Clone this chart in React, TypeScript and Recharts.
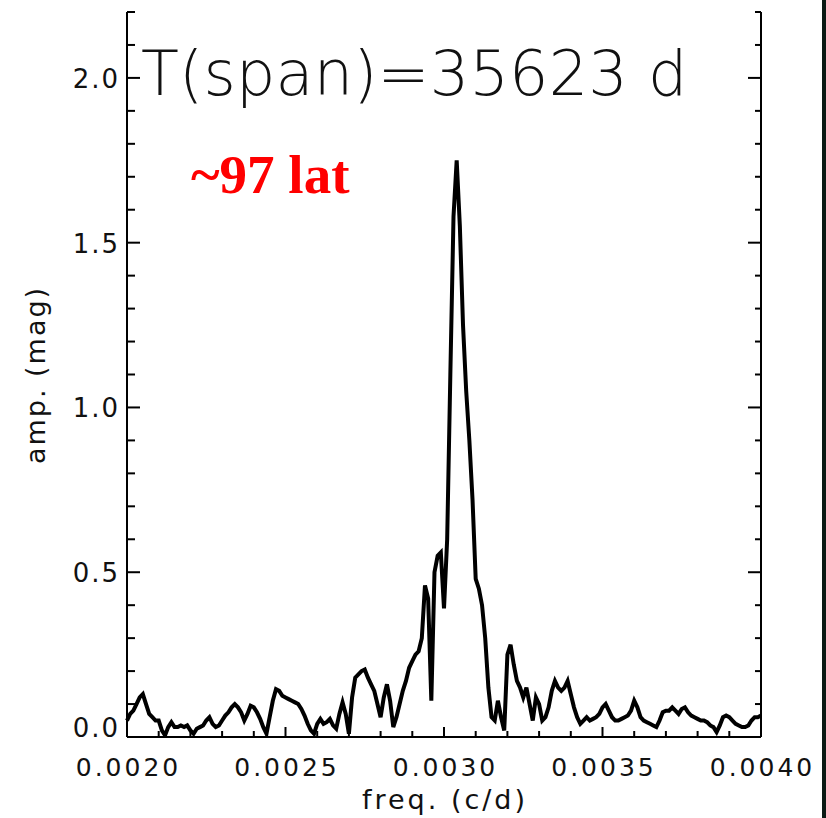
import { LineChart, Line, XAxis, YAxis } from 'recharts';

// periodogram sampled every 0.00001 c/d starting at 0.0020
const FREQ_START = 0.002;
const FREQ_STEP = 0.00001;

const amplitude = [
  0.05, 0.07, 0.08, 0.1, 0.12, 0.13, 0.1, 0.07, 0.06, 0.05,
  0.05, 0.02, 0.005, 0.03, 0.045, 0.03, 0.03, 0.035, 0.03, 0.035,
  0.02, 0.01, 0.025, 0.03, 0.035, 0.05, 0.06, 0.04, 0.03, 0.035,
  0.05, 0.065, 0.075, 0.09, 0.1, 0.09, 0.075, 0.05, 0.07, 0.095,
  0.09, 0.075, 0.055, 0.03, 0.01, 0.06, 0.11, 0.145, 0.14, 0.125,
  0.12, 0.115, 0.11, 0.105, 0.1, 0.085, 0.065, 0.04, 0.02, 0.01,
  0.04, 0.055, 0.04, 0.045, 0.055, 0.035, 0.025, 0.07, 0.105, 0.07,
  0.01, 0.12, 0.18, 0.19, 0.2, 0.205, 0.18, 0.16, 0.14, 0.1,
  0.06, 0.12, 0.16, 0.11, 0.03, 0.06, 0.1, 0.14, 0.17, 0.21,
  0.23, 0.25, 0.26, 0.3, 0.46, 0.42, 0.11, 0.5, 0.55, 0.56,
  0.39, 0.6, 1.1, 1.58, 1.75, 1.55, 1.25, 1.05, 0.9, 0.72,
  0.48, 0.45, 0.4, 0.3, 0.15, 0.06, 0.05, 0.11, 0.06, 0.02,
  0.25, 0.28, 0.22, 0.17, 0.15, 0.12, 0.15, 0.1, 0.05, 0.12,
  0.1, 0.05, 0.06, 0.09, 0.14, 0.17, 0.15, 0.14, 0.15, 0.17,
  0.13, 0.09, 0.06, 0.04, 0.05, 0.06, 0.05, 0.055, 0.06, 0.07,
  0.09, 0.1, 0.08, 0.06, 0.05, 0.05, 0.055, 0.06, 0.065, 0.08,
  0.11, 0.09, 0.06, 0.05, 0.045, 0.04, 0.035, 0.03, 0.05, 0.075,
  0.08, 0.08, 0.09, 0.08, 0.07, 0.085, 0.09, 0.075, 0.065, 0.06,
  0.055, 0.05, 0.05, 0.045, 0.035, 0.03, 0.015, 0.035, 0.06, 0.065,
  0.06, 0.05, 0.04, 0.035, 0.03, 0.03, 0.035, 0.05, 0.06, 0.06,
  0.065,
];

const freqTicks = [
  0.002, 0.0021, 0.0022, 0.0023, 0.0024, 0.0025, 0.0026, 0.0027, 0.0028, 0.0029,
  0.003, 0.0031, 0.0032, 0.0033, 0.0034, 0.0035, 0.0036, 0.0037, 0.0038, 0.0039, 0.004,
];
const ampTicks = [
  0, 0.1, 0.2, 0.3, 0.4, 0.5, 0.6, 0.7, 0.8, 0.9, 1.0, 1.1,
  1.2, 1.3, 1.4, 1.5, 1.6, 1.7, 1.8, 1.9, 2.0, 2.1, 2.2,
];

const data = amplitude.map((amp, i) => ({ freq: FREQ_START + i * FREQ_STEP, amp }));

const FONT = '"DejaVu Sans", sans-serif';
const INK = '#111';

const isMajorFreq = (v: number) => Math.abs(v * 2000 - Math.round(v * 2000)) < 1e-6;
const isMajorAmp = (v: number) => Math.abs(v * 2 - Math.round(v * 2)) < 1e-6;

const BottomTick = ({ x, y, payload }: any) => {
  const major = isMajorFreq(payload.value);
  return (
    <g>
      <line x1={x} y1={y} x2={x} y2={y - (major ? 10 : 6)} stroke="#000" strokeWidth={2} />
      {major && (
        <text x={x + 1.5} y={y + 39} textAnchor="middle" fontFamily={FONT} fontSize={25} letterSpacing={3} fill={INK}>
          {payload.value.toFixed(4)}
        </text>
      )}
    </g>
  );
};

const TopTick = ({ x, y, payload }: any) => {
  const major = isMajorFreq(payload.value);
  return <line x1={x} y1={y} x2={x} y2={y + (major ? 11 : 7)} stroke="#000" strokeWidth={2} />;
};

const LeftTick = ({ x, y, payload }: any) => {
  const major = isMajorAmp(payload.value);
  const nudge = payload.value === 0 ? -10 : 0;
  return (
    <g>
      <line x1={x} y1={y} x2={x + (major ? 13 : 8)} y2={y} stroke="#000" strokeWidth={2} />
      {major && (
        <text x={x - 7} y={y + nudge + 10} textAnchor="end" fontFamily={FONT} fontSize={26} letterSpacing={2} fill={INK}>
          {payload.value.toFixed(1)}
        </text>
      )}
    </g>
  );
};

const RightTick = ({ x, y, payload }: any) => {
  const major = isMajorAmp(payload.value);
  return <line x1={x} y1={y} x2={x - (major ? 13 : 6)} y2={y} stroke="#000" strokeWidth={2} />;
};

const App = () => {
  return (
    <div style={{ position: 'absolute', left: 0, top: 0, width: 826, height: 818, background: '#fff', overflow: 'hidden' }}>
      <LineChart width={826} height={818} data={data} margin={{ top: 12, right: 0, bottom: 0, left: 0 }}>
        <XAxis
          xAxisId="bottom"
          dataKey="freq"
          type="number"
          domain={[0.002, 0.004]}
          ticks={freqTicks}
          interval={0}
          height={81}
          tickSize={0}
          tickMargin={0}
          tick={<BottomTick />}
          axisLine={{ stroke: '#000', strokeWidth: 2 }}
          tickLine={false}
        />
        <XAxis
          xAxisId="top"
          orientation="top"
          dataKey="freq"
          type="number"
          domain={[0.002, 0.004]}
          ticks={freqTicks}
          interval={0}
          height={0}
          tickSize={0}
          tickMargin={0}
          tick={<TopTick />}
          axisLine={{ stroke: '#000', strokeWidth: 2 }}
          tickLine={false}
        />
        <YAxis
          yAxisId="left"
          type="number"
          domain={[0, 2.2]}
          ticks={ampTicks}
          interval={0}
          width={127}
          tickSize={0}
          tickMargin={0}
          tick={<LeftTick />}
          axisLine={{ stroke: '#000', strokeWidth: 2 }}
          tickLine={false}
          allowDataOverflow
        />
        <YAxis
          yAxisId="right"
          orientation="right"
          type="number"
          domain={[0, 2.2]}
          ticks={ampTicks}
          interval={0}
          width={65}
          tickSize={0}
          tickMargin={0}
          tick={<RightTick />}
          axisLine={{ stroke: '#000', strokeWidth: 2 }}
          tickLine={false}
          allowDataOverflow
        />
        <Line
          xAxisId="bottom"
          yAxisId="left"
          dataKey="amp"
          type="linear"
          stroke="#000"
          strokeWidth={4}
          strokeLinejoin="miter"
          dot={false}
          isAnimationActive={false}
        />
      </LineChart>
      <p style={{ position: 'absolute', margin: 0, left: 141, top: 43, fontFamily: FONT, fontWeight: 200, fontSize: 62, color: '#111', whiteSpace: 'nowrap', letterSpacing: 0.2, lineHeight: 1 }}>
        T(span)=35623 d
      </p>
      <p style={{ position: 'absolute', margin: 0, left: 191, top: 147, fontFamily: '"Liberation Serif", serif', fontWeight: 700, fontSize: 55, color: '#f00', whiteSpace: 'nowrap', lineHeight: 1 }}>
        ~97 lat
      </p>
      <p style={{ position: 'absolute', margin: 0, left: 445, top: 786, transform: 'translateX(-50%)', fontFamily: FONT, fontSize: 27, letterSpacing: 3, color: INK, whiteSpace: 'nowrap', lineHeight: 1 }}>
        freq. (c/d)
      </p>
      <p style={{ position: 'absolute', margin: 0, left: 35, top: 375, transform: 'translate(-50%, -50%) rotate(-90deg)', fontFamily: FONT, fontSize: 27, letterSpacing: 2, color: INK, whiteSpace: 'nowrap', lineHeight: 1 }}>
        amp. (mag)
      </p>
      <div style={{ position: 'absolute', left: 822, top: 0, width: 4, height: 818, background: '#0b1a14' }} />
    </div>
  );
};

export default App;
